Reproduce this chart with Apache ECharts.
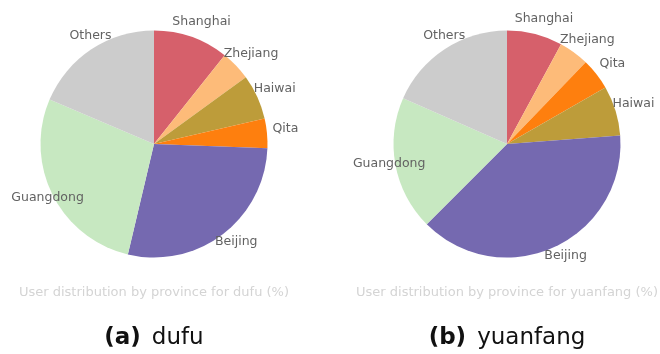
<!DOCTYPE html>
<html>
<head>
<meta charset="utf-8">
<script src="https://cdn.jsdelivr.net/npm/echarts@6/dist/echarts.min.js"></script>
<style>
  html, body { margin: 0; padding: 0; background: #fff; }
  #chart { width: 660px; height: 354px; }
</style>
</head>
<body>
<div id="chart"></div>
<script>
// Slice order (clockwise from 12 o'clock) and shares in percent for each user
const dufuCategories = ['Shanghai', 'Zhejiang', 'Haiwai', 'Qita', 'Beijing', 'Guangdong', 'Others'];
const dufuValues = [10.7, 4.3, 6.4, 4.2, 28.1, 27.7, 18.6];

const yuanfangCategories = ['Shanghai', 'Zhejiang', 'Qita', 'Haiwai', 'Beijing', 'Guangdong', 'Others'];
const yuanfangValues = [7.9, 4.3, 4.5, 7.1, 38.7, 19.1, 18.4];

const panelTitles = ['User distribution by province for dufu (%)', 'User distribution by province for yuanfang (%)'];
const captionTags = ['(a)', '(b)'];
const captionNames = ['dufu', 'yuanfang'];

// One colour per province, shared by both pies
const provinceColors = {
  Shanghai: '#d6606b',
  Zhejiang: '#fdbb79',
  Haiwai: '#bd9c3a',
  Qita: '#fe7f0e',
  Beijing: '#7569b0',
  Guangdong: '#c7e8c1',
  Others: '#cccccc'
};

const centers = [[154, 144], [507, 144]];
const pieRadius = 113.5;

function buildData(cats, vals) {
  return cats.map((name, i) => ({
    name: name,
    value: vals[i],
    itemStyle: { color: provinceColors[name] }
  }));
}

function pieSeries(cats, vals, center) {
  return [
    {
      type: 'pie',
      center: center,
      radius: [0, pieRadius],
      startAngle: 90,
      clockwise: true,
      animation: false,
      silent: true,
      avoidLabelOverlap: false,
      itemStyle: { borderWidth: 0 },
      label: { show: false },
      labelLine: { show: false },
      data: buildData(cats, vals)
    },
    {
      // transparent ring that carries the slice names just outside the pie
      type: 'pie',
      center: center,
      radius: [120, 126],
      startAngle: 90,
      clockwise: true,
      animation: false,
      silent: true,
      avoidLabelOverlap: false,
      itemStyle: { color: 'rgba(0,0,0,0)', borderWidth: 0 },
      label: {
        show: true,
        position: 'inside',
        formatter: '{b}',
        color: '#626262',
        fontFamily: 'DejaVu Sans',
        fontSize: 12.5,
        offset: [6, -3]
      },
      labelLine: { show: false },
      emphasis: { disabled: true },
      data: cats.map((name, i) => ({ name: name, value: vals[i] }))
    }
  ];
}

const chart = echarts.init(document.getElementById('chart'), null, { renderer: 'canvas' });

const graphics = [];
centers.forEach((c, k) => {
  graphics.push({
    type: 'text',
    x: c[0],
    y: 293,
    style: {
      text: panelTitles[k],
      fill: '#d4d4d4',
      font: '13px "DejaVu Sans"',
      textAlign: 'center',
      textVerticalAlign: 'middle'
    }
  });
  graphics.push({
    type: 'text',
    x: c[0],
    y: 338,
    style: {
      text: '{tag|' + captionTags[k] + '}{name|' + captionNames[k] + '}',
      textAlign: 'center',
      textVerticalAlign: 'middle',
      rich: {
        tag: { fontFamily: 'DejaVu Sans', fontSize: 23, fontWeight: 'bold', fill: '#111', padding: [0, 11, 0, 0] },
        name: { fontFamily: 'DejaVu Sans', fontSize: 23, fill: '#111' }
      }
    }
  });
});

chart.setOption({
  backgroundColor: '#ffffff',
  animation: false,
  series: [
    ...pieSeries(dufuCategories, dufuValues, centers[0]),
    ...pieSeries(yuanfangCategories, yuanfangValues, centers[1])
  ],
  graphic: graphics
});
</script>
</body>
</html>
